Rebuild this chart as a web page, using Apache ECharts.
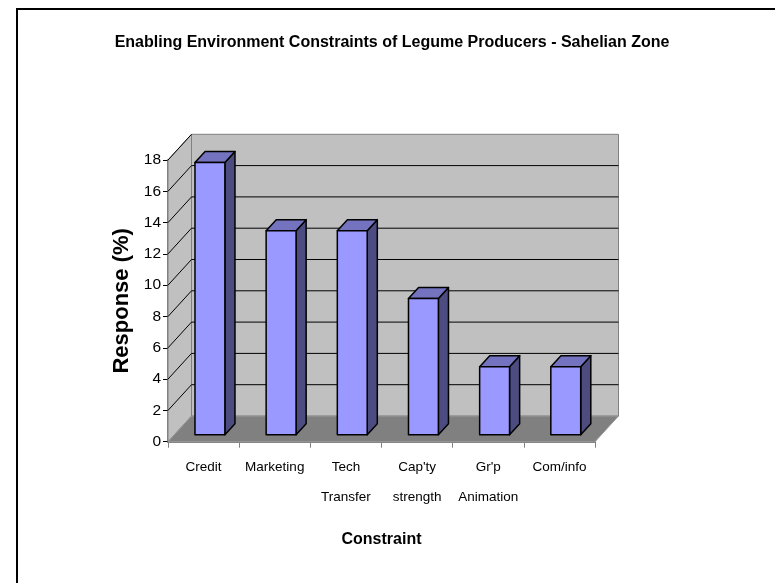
<!DOCTYPE html>
<html>
<head>
<meta charset="utf-8">
<script src="https://cdn.jsdelivr.net/npm/echarts@6/dist/echarts.min.js"></script>
<style>html,body{margin:0;padding:0;background:#fff}#c{width:775px;height:583px}</style>
</head>
<body>
<div id="c"></div>
<script>
const chartTitle = 'Enabling Environment Constraints of Legume Producers - Sahelian Zone';
const categories = ['Credit', 'Marketing', 'Tech\nTransfer', "Cap'ty\nstrength", "Gr'p\nAnimation", 'Com/info'];
const responses = [17.39, 13.04, 13.04, 8.70, 4.35, 4.35];
const yTicks = [0, 2, 4, 6, 8, 10, 12, 14, 16, 18];
const xName = 'Constraint';
const yName = 'Response (%)';

// 3D look (pixels)
const DX = 23.5, DY = -25.7;
const F1 = 0.27, FD = 0.43, WF = 0.42;
const FRONT = '#9999FF', TOP = '#7373BF', SIDE = '#4C4C80';
const FONT = 'Liberation Sans, Arial, sans-serif';

const chart = echarts.init(document.getElementById('c'), null, {renderer: 'canvas'});

function renderWalls(params, api) {
  const n = categories.length;
  const band = api.size([1, 0])[0];
  const x0 = api.coord([0, 0])[0] - band / 2;
  const x1 = api.coord([n - 1, 0])[0] + band / 2;
  const y0 = api.coord([0, yTicks[0]])[1];
  const yT = api.coord([0, yTicks[yTicks.length - 1]])[1];
  const ch = [];
  ch.push({type: 'polygon', shape: {points: [[x0, y0], [x0, yT], [x0 + DX, yT + DY], [x0 + DX, y0 + DY]]},
    style: {fill: '#C0C0C0', stroke: '#808080', lineWidth: 1}});
  ch.push({type: 'rect', shape: {x: x0 + DX, y: yT + DY, width: x1 - x0, height: y0 - yT},
    style: {fill: '#C0C0C0', stroke: '#808080', lineWidth: 1}});
  ch.push({type: 'polygon', shape: {points: [[x0, y0], [x1, y0], [x1 + DX, y0 + DY], [x0 + DX, y0 + DY]]},
    style: {fill: '#808080', stroke: '#999999', lineWidth: 1}});
  for (let k = 1; k < yTicks.length; k++) {
    const y = api.coord([0, yTicks[k]])[1];
    ch.push({type: 'line', shape: {x1: x0, y1: y, x2: x0 + DX, y2: y + DY}, style: {stroke: '#000', lineWidth: 1}});
    if (k < yTicks.length - 1) {
      ch.push({type: 'line', shape: {x1: x0 + DX, y1: y + DY, x2: x1 + DX, y2: y + DY}, style: {stroke: '#000', lineWidth: 1}});
    }
  }
  return {type: 'group', children: ch};
}

function renderBar(params, api) {
  const i = api.value(0), v = api.value(1);
  const base = api.coord([i, 0]);
  const top = api.coord([i, v]);
  const band = api.size([1, 0])[0];
  const w = band * WF;
  const ox = DX * F1, oy = DY * F1;
  const xl = base[0] - w / 2 + ox, xr = xl + w;
  const yb = base[1] + oy, yt = top[1] + oy;
  const ddx = DX * FD, ddy = DY * FD;
  const st = {stroke: '#000', lineWidth: 1.5, lineJoin: 'round'};
  return {type: 'group', children: [
    {type: 'polygon', shape: {points: [[xr, yb], [xr, yt], [xr + ddx, yt + ddy], [xr + ddx, yb + ddy]]}, style: Object.assign({fill: SIDE}, st)},
    {type: 'polygon', shape: {points: [[xl, yt], [xr, yt], [xr + ddx, yt + ddy], [xl + ddx, yt + ddy]]}, style: Object.assign({fill: TOP}, st)},
    {type: 'rect', shape: {x: xl, y: yt, width: w, height: yb - yt}, style: Object.assign({fill: FRONT}, st)}
  ]};
}

chart.setOption({
  animation: false,
  backgroundColor: '#fff',
  title: {
    text: chartTitle, left: 392, top: 35, textAlign: 'center', padding: 0,
    textStyle: {fontFamily: FONT, fontWeight: 'bold', fontSize: 16, color: '#000'}
  },
  graphic: [{
    type: 'rect', shape: {x: 17, y: 9, width: 800, height: 620},
    style: {fill: 'none', stroke: '#000', lineWidth: 2}, z: 100
  }],
  grid: {left: 168, right: 180, top: 160, bottom: 141.3, containLabel: false},
  xAxis: {
    type: 'category', data: categories, boundaryGap: true,
    axisLine: {show: true, lineStyle: {color: '#808080', width: 2}},
    axisTick: {show: true, length: 6, alignWithLabel: false, lineStyle: {color: '#808080', width: 1}},
    axisLabel: {interval: 0, margin: 11, lineHeight: 30, color: '#000', fontSize: 13.5, fontFamily: FONT},
    name: xName, nameLocation: 'middle', nameGap: 90,
    nameTextStyle: {fontFamily: FONT, fontWeight: 'bold', fontSize: 16, color: '#000'},
    splitLine: {show: false}
  },
  yAxis: {
    type: 'value', min: yTicks[0], max: yTicks[yTicks.length - 1], interval: 2,
    axisLine: {show: true, lineStyle: {color: '#808080', width: 2}},
    axisTick: {show: true, length: 5, lineStyle: {color: '#000', width: 1}},
    axisLabel: {margin: 7, color: '#000', fontSize: 15.5, fontFamily: FONT},
    splitLine: {show: false},
    name: yName, nameLocation: 'middle', nameGap: 32, nameRotate: 90,
    nameTextStyle: {fontFamily: FONT, fontWeight: 'bold', fontSize: 22, color: '#000'}
  },
  series: [
    {type: 'custom', renderItem: renderWalls, data: [[0, 0]], z: 1, silent: true},
    {type: 'custom', renderItem: renderBar, data: responses.map((v, i) => [i, v]), z: 2,
      encode: {x: 0, y: 1}}
  ]
});
</script>
</body>
</html>
